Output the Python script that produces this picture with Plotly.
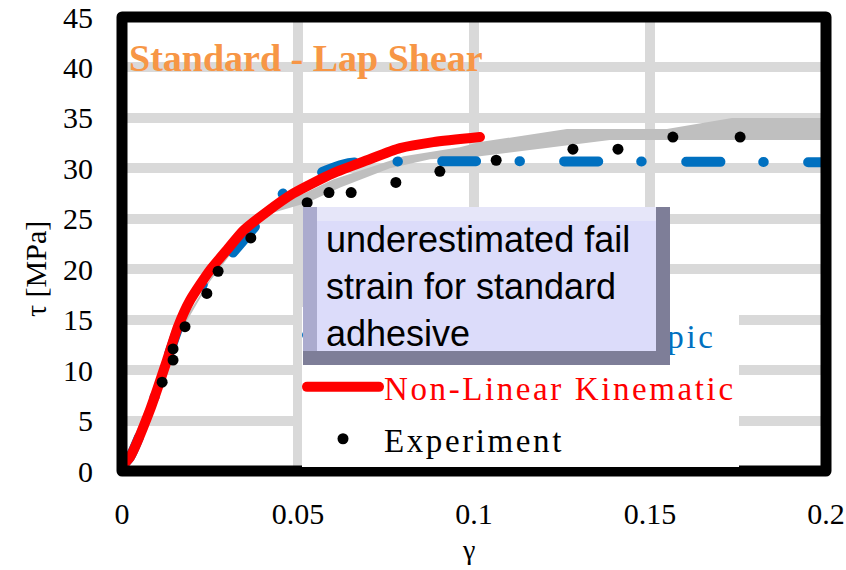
import plotly.graph_objects as go

# Shear stress (MPa) vs shear strain, standard adhesive, lap shear test
gamma_iso = [0.0, 0.00227, 0.00795, 0.0128, 0.0159, 0.0193, 0.025, 0.0306, 0.037,
             0.045, 0.052, 0.058, 0.063, 0.067, 0.2]
tau_iso = [0.5, 1.39, 6.05, 11.0, 14.1, 16.6, 19.4, 21.3, 23.9,
           27.3, 28.8, 29.8, 30.4, 30.6, 30.6]

gamma_kin = [0.0, 0.00227, 0.00795, 0.0128, 0.0159, 0.0193, 0.025, 0.0298, 0.0344,
             0.0412, 0.0486, 0.0599, 0.0696, 0.079, 0.0884, 0.1017]
tau_kin = [0.5, 1.39, 6.05, 11.0, 14.3, 16.9, 19.9, 21.9, 23.8,
           25.7, 27.5, 29.5, 30.8, 32.0, 32.6, 33.1]

gamma_exp = [0.0017, 0.0114, 0.0145, 0.0145, 0.0179, 0.0241, 0.0273, 0.0366, 0.0526,
             0.0588, 0.0651, 0.0778, 0.0903, 0.1063, 0.1281, 0.1409, 0.1565, 0.1756, 0.2011]
tau_exp = [-1.1, 8.8, 11.0, 12.1, 14.3, 17.6, 19.8, 23.1, 26.6,
           27.6, 27.6, 28.6, 29.7, 30.8, 31.9, 31.9, 33.1, 33.1, 33.1]

# Experimental scatter band (upper and lower bounds)
band_up_gamma = [0.0, 0.016, 0.03, 0.045, 0.06, 0.08, 0.096, 0.1017, 0.1264, 0.1548, 0.1733, 0.2]
band_up_tau = [0.5, 14.0, 21.8, 26.4, 28.9, 31.2, 32.1, 32.6, 33.9, 33.9, 35.0, 35.0]
band_lo_gamma = [0.2, 0.1386, 0.1017, 0.0875, 0.0761, 0.062, 0.0526, 0.039, 0.025, 0.015, 0.0]
band_lo_tau = [32.8, 32.8, 31.2, 30.9, 30.0, 28.1, 26.6, 25.2, 18.8, 12.8, 0.0]

x_ticks = [0, 0.05, 0.1, 0.15, 0.2]
y_ticks = [0, 5, 10, 15, 20, 25, 30, 35, 40, 45]

SERIF = "Liberation Serif"
BLUE = "#0070C0"
RED = "#FF0000"
PAD = "\u00a0" * 6  # room for the letter-spaced legend labels

fig = go.Figure()

fig.add_trace(go.Scatter(
    x=band_up_gamma + band_lo_gamma, y=band_up_tau + band_lo_tau,
    mode="lines", fill="toself", fillcolor="#BFBFBF",
    line=dict(width=0, color="#BFBFBF"), showlegend=False, hoverinfo="skip"))

fig.add_trace(go.Scatter(
    x=gamma_iso, y=tau_iso, mode="lines",
    name=f'<span style="color:{BLUE}">Non-Linear Isotropic</span>{PAD}',
    legendgroup="iso",
    line=dict(color=BLUE, width=10, dash="34px,43px,0.5px,44.5px",
              shape="spline", smoothing=0.6)))

fig.add_trace(go.Scatter(
    x=gamma_kin, y=tau_kin, mode="lines",
    name=f'<span style="color:{RED}">Non-Linear Kinematic</span>{PAD}',
    legendgroup="kin",
    line=dict(color=RED, width=10, shape="spline", smoothing=0.6)))

fig.add_trace(go.Scatter(
    x=gamma_exp, y=tau_exp, mode="markers", name="Experiment",
    legendgroup="exp", cliponaxis=False,
    marker=dict(color="black", size=11)))

L, R, T, B = 122, 20, 17, 99
W, H = 846, 570
PW, PH = W - L - R, H - T - B


def px(x):
    return (x - L) / PW


def py(y):
    return (H - B - y) / PH


annotations = [
    dict(text="Standard - Lap Shear", x=px(127), y=py(58), xanchor="left", yanchor="middle",
         font=dict(family=SERIF, size=38, color="#F79646", weight="bold")),
    dict(text="τ [MPa]", x=px(35), y=py(269), textangle=-90, xanchor="center", yanchor="middle",
         font=dict(family=SERIF, size=30, color="black")),
    dict(text="γ", x=px(468), y=py(549), xanchor="center", yanchor="middle",
         font=dict(family=SERIF, size=28, color="black")),
]

# Bevelled call-out box: dark shadow, lit left edge, lit top edge, face
box_x0, box_y0, box_x1, box_y1, bev = 303, 207, 670, 365, 14
layers = [
    (box_x0, box_y0, box_x1, box_y1, "#7E7E98"),
    (box_x0, box_y0, box_x1 - bev, box_y1 - bev, "#ABABCE"),
    (box_x0 + bev, box_y0, box_x1 - bev, box_y0 + bev, "#E6E6F9"),
    (box_x0 + bev, box_y0 + bev, box_x1 - bev, box_y1 - bev, "#DCDCFA"),
]
for x0, y0, x1, y1, c in layers:
    annotations.append(dict(text=" ", x=px(x0), y=py(y0), xanchor="left", yanchor="top",
                            width=x1 - x0, height=y1 - y0, bgcolor=c, borderpad=0,
                            borderwidth=0, showarrow=False))
annotations.append(dict(
    text="underestimated fail<br>strain for standard<br>adhesive",
    x=px(box_x0 + bev + 7), y=py((box_y0 + box_y1 - bev) / 2 + 7), xanchor="left", yanchor="middle",
    align="left", showarrow=False,
    font=dict(family="Liberation Sans", size=36, color="black")))

for a in annotations:
    a.setdefault("xref", "paper")
    a.setdefault("yref", "paper")
    a.setdefault("showarrow", False)

axis_common = dict(showline=False, zeroline=False, showgrid=True, gridcolor="#D9D9D9",
                   gridwidth=10, ticks="", automargin=False,
                   tickfont=dict(family=SERIF, size=30, color="black"))

fig.update_layout(
    width=W, height=H,
    margin=dict(l=L, r=R, t=T, b=B, autoexpand=False),
    paper_bgcolor="white", plot_bgcolor="white",
    xaxis=dict(range=[0, 0.2], tickvals=x_ticks, ticktext=[f"{v:g}" for v in x_ticks],
               ticklabelstandoff=22, **axis_common),
    yaxis=dict(range=[0, 45], tickvals=y_ticks, ticklabelstandoff=28, **axis_common),
    legend=dict(x=px(302), y=py(307), xanchor="left", yanchor="top",
                bgcolor="white", borderwidth=0, itemwidth=72, tracegroupgap=6,
                font=dict(family=SERIF, size=33, color="black")),
    annotations=annotations,
    shapes=[dict(type="rect", xref="paper", yref="paper", x0=0, y0=0, x1=1, y1=1,
                 line=dict(color="black", width=11), layer="above")],
)

style_js = ("var s=document.createElement('style');"
            "s.textContent='.js-line{stroke-linecap:round;stroke-linejoin:round}"
            " .shapelayer path{stroke-linejoin:round}"
            " .legendtext{letter-spacing:2.6px}';"
            "document.head.appendChild(s);")

fig.write_html("out.html", post_script=style_js)
